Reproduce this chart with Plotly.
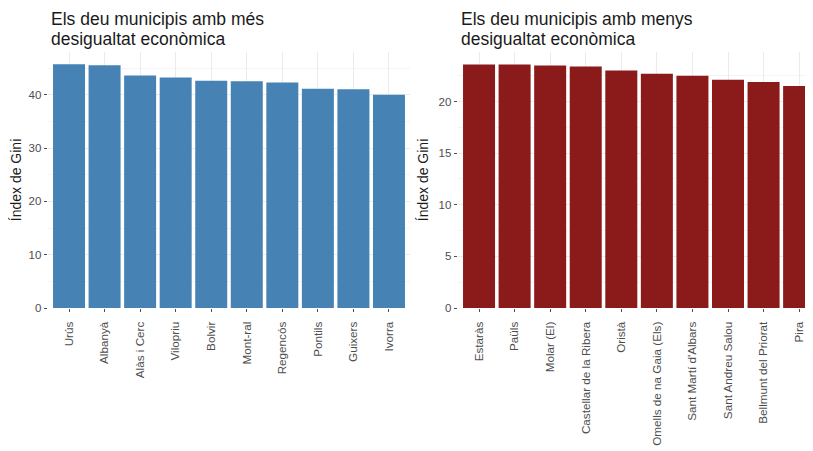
import plotly.graph_objects as go
from plotly.subplots import make_subplots

# Els deu municipis amb més desigualtat
mes_municipis = ["Urús", "Albanyà", "Alàs i Cerc", "Vilopriu", "Bolvir",
                 "Mont-ral", "Regencós", "Pontils", "Guixers", "Ivorra"]
mes_gini = [45.7, 45.5, 43.6, 43.2, 42.6, 42.5, 42.3, 41.1, 41.0, 40.0]

# Els deu municipis amb menys desigualtat
menys_municipis = ["Estaràs", "Paüls", "Molar (El)", "Castellar de la Ribera", "Oristà",
                   "Omells de na Gaia (Els)", "Sant Martí d'Albars", "Sant Andreu Salou",
                   "Bellmunt del Priorat", "Pira"]
menys_gini = [23.6, 23.6, 23.5, 23.4, 23.0, 22.7, 22.5, 22.1, 21.9, 21.5]

# the page body has an 8px margin, so the figure is drawn a bit smaller
OFF = 8
FW, FH = 813 - OFF, 451 - OFF
FONT = "Liberation Sans, Arial, sans-serif"
GRID = "#ebebeb"
TICK = "#4d4d4d"


def fx(px):
    return (px - OFF) / FW


def fy(py):
    return 1 - (py - OFF) / FH


fig = make_subplots(rows=1, cols=2)

fig.add_trace(go.Bar(x=mes_municipis, y=mes_gini, marker_color="#4682b4",
                     marker_line_width=0), row=1, col=1)
fig.add_trace(go.Bar(x=menys_municipis, y=menys_gini, marker_color="#8b1a1a",
                     marker_line_width=0), row=1, col=2)

ydom = [fy(308), fy(52)]

xaxis_common = dict(
    showgrid=True, gridcolor=GRID, gridwidth=1,
    ticks="outside", ticklen=3, tickcolor=TICK,
    tickangle=-90, tickfont=dict(size=11.7, color=TICK, family=FONT),
    ticklabeloverflow="allow", ticklabelstandoff=5, automargin=False,
    showline=False, zeroline=False,
)
yaxis_common = dict(
    showgrid=True, gridcolor=GRID, gridwidth=1,
    ticks="outside", ticklen=3, tickcolor=TICK,
    tickfont=dict(size=11.5, color=TICK, family=FONT),
    showline=False, zeroline=False, automargin=False,
    title=dict(text="Índex de Gini", font=dict(size=14, color="#1a1a1a", family=FONT),
               standoff=6),
    domain=ydom,
)

fig.update_xaxes(**xaxis_common, domain=[fx(47.7), fx(410.3)], range=[-0.6, 9.6], row=1, col=1)
fig.update_xaxes(**xaxis_common, domain=[fx(457.7), 1.0], range=[-0.6, 9.39], row=1, col=2)

fig.update_yaxes(**yaxis_common, range=[0, 48.0], tickvals=[0, 10, 20, 30, 40],
                 minor=dict(showgrid=True, gridcolor="#f4f4f4", tickvals=[5, 15, 25, 35, 45]),
                 row=1, col=1)
fig.update_yaxes(**yaxis_common, range=[0, 24.8], tickvals=[0, 5, 10, 15, 20],
                 minor=dict(showgrid=True, gridcolor="#f4f4f4",
                            tickvals=[2.5, 7.5, 12.5, 17.5, 22.5]),
                 row=1, col=2)

titles = [
    (50, ["Els deu municipis amb més", "desigualtat econòmica"]),
    (460, ["Els deu municipis amb menys", "desigualtat econòmica"]),
]
for x0, lines in titles:
    for yy, line in zip([19, 39], lines):
        fig.add_annotation(text=line, x=fx(x0), y=fy(yy), xref="paper", yref="paper",
                           xanchor="left", yanchor="middle", showarrow=False,
                           borderpad=0, font=dict(size=17.5, color="#1a1a1a", family=FONT))

fig.update_layout(
    width=FW, height=FH,
    margin=dict(l=0, r=0, t=0, b=0),
    paper_bgcolor="white", plot_bgcolor="white",
    bargap=0.1, showlegend=False,
    font=dict(family=FONT),
)

fig.write_html("out.html")
